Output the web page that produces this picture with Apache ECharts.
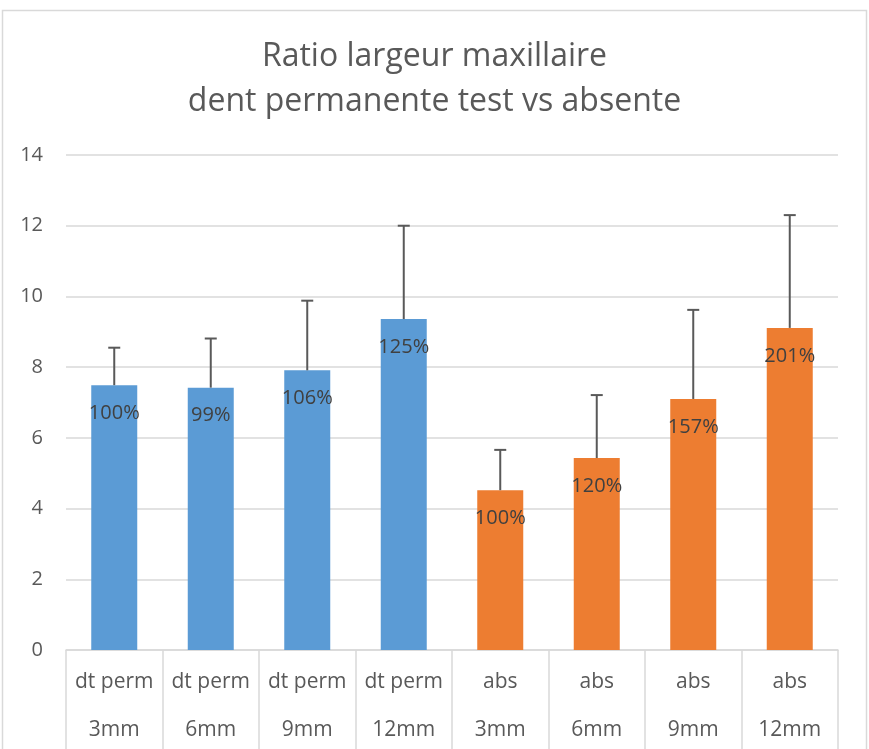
<!DOCTYPE html>
<html>
<head>
<meta charset="utf-8">
<script src="https://cdn.jsdelivr.net/npm/echarts@6/dist/echarts.min.js"></script>
<style>
  html, body { margin: 0; padding: 0; background: #fff; }
  #chart { width: 869px; height: 749px; }
</style>
</head>
<body>
<div id="chart"></div>
<script>
var categories = ['dt perm\n3mm', 'dt perm\n6mm', 'dt perm\n9mm', 'dt perm\n12mm',
                  'abs\n3mm', 'abs\n6mm', 'abs\n9mm', 'abs\n12mm'];
var means = [7.49, 7.42, 7.91, 9.36, 4.52, 5.43, 7.10, 9.11];
var errors = [1.06, 1.39, 1.97, 2.64, 1.14, 1.78, 2.52, 3.19];
var ratioLabels = ['100%', '99%', '106%', '125%', '100%', '120%', '157%', '201%'];
var groupColors = ['#5B9BD5', '#5B9BD5', '#5B9BD5', '#5B9BD5',
                   '#ED7D31', '#ED7D31', '#ED7D31', '#ED7D31'];
var yTicks = { min: 0, max: 14, interval: 2 };

var font = '"Open Sans", "Noto Sans", sans-serif';
var myChart = echarts.init(document.getElementById('chart'));

var barData = means.map(function (v, i) {
    return { value: v, itemStyle: { color: groupColors[i] } };
});
var errData = means.map(function (v, i) {
    return [i, v, v + errors[i]];
});

var option = {
    animation: false,
    textStyle: { fontFamily: font },
    graphic: [{
        type: 'rect',
        shape: { x: 2.5, y: 10.5, width: 864, height: 760 },
        style: { fill: 'none', stroke: '#d9d9d9', lineWidth: 1.5 },
        silent: true
    }],
    title: {
        text: 'Ratio largeur maxillaire\ndent permanente test vs absente',
        left: 'center',
        top: 34,
        padding: 0,
        textStyle: {
            fontFamily: font,
            fontSize: 32,
            fontWeight: 'normal',
            color: '#595959',
            lineHeight: 45
        }
    },
    grid: {
        left: 66, right: 31, top: 155, bottom: 99,
        containLabel: false, outerBoundsMode: 'none'
    },
    xAxis: {
        type: 'category',
        data: categories,
        axisLine: { lineStyle: { color: '#d9d9d9', width: 1.5 } },
        axisTick: {
            show: true, interval: 0, alignWithLabel: false, length: 110,
            lineStyle: { color: '#d9d9d9', width: 1.5 }
        },
        axisLabel: {
            interval: 0, margin: 8, fontSize: 21, lineHeight: 48,
            color: '#595959', fontFamily: font
        }
    },
    yAxis: {
        type: 'value',
        min: yTicks.min,
        max: yTicks.max,
        interval: yTicks.interval,
        axisLine: { show: false },
        axisTick: { show: false },
        axisLabel: { fontSize: 20, color: '#595959', margin: 23, fontFamily: font },
        splitLine: { lineStyle: { color: '#d9d9d9', width: 1.5 } }
    },
    series: [{
        type: 'bar',
        data: barData,
        barWidth: 46,
        label: {
            show: true,
            position: 'insideTop',
            distance: 17,
            fontSize: 20,
            lineHeight: 22,
            color: '#404040',
            fontFamily: font,
            formatter: function (p) { return ratioLabels[p.dataIndex]; }
        }
    }, {
        type: 'custom',
        data: errData,
        z: 10,
        renderItem: function (params, api) {
            var base = api.coord([api.value(0), api.value(1)]);
            var top = api.coord([api.value(0), api.value(2)]);
            var cap = 6;
            var st = { stroke: '#595959', lineWidth: 2 };
            return {
                type: 'group',
                children: [
                    { type: 'line', shape: { x1: base[0], y1: base[1], x2: top[0], y2: top[1] }, style: st },
                    { type: 'line', shape: { x1: top[0] - cap, y1: top[1], x2: top[0] + cap, y2: top[1] }, style: st }
                ]
            };
        }
    }]
};
myChart.setOption(option);
</script>
</body>
</html>
